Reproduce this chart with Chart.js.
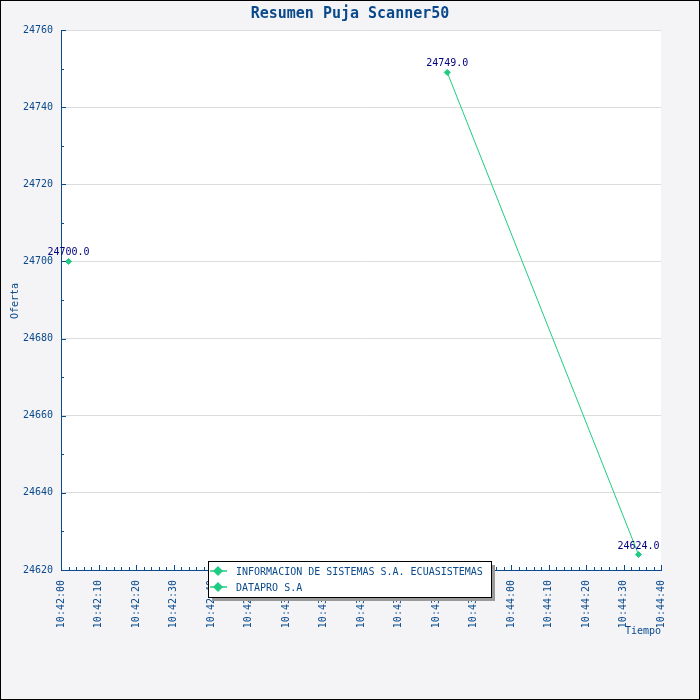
<!DOCTYPE html>
<html>
<head>
<meta charset="utf-8">
<script src="https://cdn.jsdelivr.net/npm/chart.js@4/dist/chart.umd.min.js"></script>
<style>
html,body{margin:0;padding:0;background:#f4f4f6;}
canvas{display:block;}
</style>
</head>
<body>
<canvas id="c" width="700" height="700"></canvas>
<script>
// ---- data ----
const chartTitle = "Resumen Puja Scanner50";
const seriesNames = ["INFORMACION DE SISTEMAS S.A. ECUASISTEMAS", "DATAPRO S.A"];
const series1Times = ["10:42:02"];
const series1Values = [24700.0];
const series2Times = ["10:43:43", "10:44:34"];
const series2Values = [24749.0, 24624.0];
const xStart = "10:42:00";
const xEnd = "10:44:40";
const yMin = 24620, yMax = 24760, yStep = 20, yMinorStep = 10;
const xStepSec = 10, xMinorStepSec = 2;
const yTitle = "Oferta";
const xTitle = "Tiempo";

// ---- helpers ----
function toSec(t){const p=t.split(':').map(Number);return p[0]*3600+p[1]*60+p[2];}
function fmt(s){const h=Math.floor(s/3600),m=Math.floor((s%3600)/60),x=s%60;
  const z=n=>String(n).padStart(2,'0');return z(h)+':'+z(m)+':'+z(x);}
const base = toSec(xStart);
const xMax = toSec(xEnd)-base;
function pts(times, vals){return times.map((t,i)=>({x:toSec(t)-base,y:vals[i]}));}

const TXT = '#0a4a8c';
const AX = '#0a4a8c';
const GREEN = '#1fcc82';
const FONT = '"DejaVu Sans Mono", monospace';

const decor = {
  id:'decor',
  beforeDraw(chart){
    const {ctx, chartArea:a} = chart;
    ctx.save();
    ctx.fillStyle='#f4f4f6'; ctx.fillRect(0,0,700,700);
    ctx.strokeStyle='#000'; ctx.lineWidth=1; ctx.strokeRect(0.5,0.5,699,699);
    ctx.fillStyle='#fff'; ctx.fillRect(a.left,a.top,a.right-a.left,a.bottom-a.top);
    ctx.restore();
  },
  afterDraw(chart){
    const {ctx, chartArea:a, scales} = chart;
    const xs=scales.x, ys=scales.y;
    ctx.save();
    // ticks inward
    ctx.strokeStyle=AX; ctx.lineWidth=1;
    ctx.beginPath();
    for(let v=yMin; v<=yMax; v+=yMinorStep){
      const y=Math.round(ys.getPixelForValue(v))+0.5;
      const len=((v-yMin)%yStep===0)?5:3;
      ctx.moveTo(a.left,y); ctx.lineTo(a.left+len,y);
    }
    for(let s=0; s<=xMax; s+=xMinorStepSec){
      const x=Math.round(xs.getPixelForValue(s))+0.5;
      const len=(s%xStepSec===0)?5:3;
      ctx.moveTo(x,a.bottom); ctx.lineTo(x,a.bottom-len);
    }
    ctx.stroke();
    // title
    ctx.fillStyle=TXT;
    ctx.font='bold 15px '+FONT;
    ctx.textAlign='center'; ctx.textBaseline='alphabetic';
    ctx.fillText(chartTitle, 350, 18);
    // axis titles
    ctx.font='10px '+FONT;
    ctx.textAlign='right';
    ctx.fillText(xTitle, a.right, 634);
    ctx.save();
    ctx.translate(15,301); ctx.rotate(-Math.PI/2);
    ctx.textAlign='center'; ctx.textBaseline='middle';
    ctx.fillText(yTitle,0,0);
    ctx.restore();
    // data labels
    ctx.fillStyle='#000080';
    ctx.font='10px '+FONT;
    ctx.textAlign='center'; ctx.textBaseline='alphabetic';
    chart.data.datasets.forEach((ds,i)=>{
      const meta=chart.getDatasetMeta(i);
      meta.data.forEach((p,j)=>{
        ctx.fillText(ds.data[j].y.toFixed(1), p.x, p.y-6);
      });
    });
    // legend
    const L=208,T=561,R=491,B=597;
    ctx.fillStyle='#9a9a9a';
    ctx.fillRect(L+4,T+4,R-L,B-T);
    ctx.fillStyle='#fff';
    ctx.fillRect(L,T,R-L,B-T);
    ctx.strokeStyle='#000'; ctx.lineWidth=1;
    ctx.strokeRect(L+0.5,T+0.5,R-L,B-T);
    chart.data.datasets.forEach((ds,i)=>{
      const cy=T+10+i*16;
      ctx.strokeStyle=ds.borderColor; ctx.lineWidth=1.5;
      ctx.beginPath(); ctx.moveTo(L+2,cy); ctx.lineTo(L+19,cy); ctx.stroke();
      ctx.fillStyle=ds.pointBackgroundColor;
      ctx.beginPath(); ctx.moveTo(L+10,cy-5); ctx.lineTo(L+15,cy); ctx.lineTo(L+10,cy+5); ctx.lineTo(L+5,cy); ctx.closePath(); ctx.fill();
      ctx.fillStyle=TXT; ctx.font='10px '+FONT;
      ctx.textAlign='left'; ctx.textBaseline='middle';
      ctx.fillText(ds.label, L+28, cy+1);
    });
    ctx.restore();
  }
};

new Chart(document.getElementById('c'),{
  type:'line',
  data:{datasets:[
    {label:seriesNames[0], data:pts(series1Times,series1Values), borderColor:GREEN, backgroundColor:GREEN,
     pointBackgroundColor:GREEN, pointBorderColor:GREEN, pointStyle:'rectRot', pointRadius:3, borderWidth:1, tension:0},
    {label:seriesNames[1], data:pts(series2Times,series2Values), borderColor:GREEN, backgroundColor:GREEN,
     pointBackgroundColor:GREEN, pointBorderColor:GREEN, pointStyle:'rectRot', pointRadius:3, borderWidth:1, tension:0}
  ]},
  options:{
    responsive:false, animation:false, devicePixelRatio:1,
    layout:{padding:{top:30,right:39,left:0,bottom:0}},
    plugins:{legend:{display:false}, title:{display:false}, tooltip:{enabled:false}},
    scales:{
      x:{type:'linear', min:0, max:xMax,
        afterFit(s){s.height=130;},
        ticks:{stepSize:xStepSec, autoSkip:false, maxRotation:90, minRotation:90, padding:10,
          color:TXT, font:{family:FONT,size:10}, callback:v=>fmt(base+v)},
        grid:{display:false, drawTicks:false},
        border:{display:true,color:AX,width:1}},
      y:{type:'linear', min:yMin, max:yMax,
        afterFit(s){s.width=61;},
        ticks:{stepSize:yStep, padding:8, color:TXT, font:{family:FONT,size:10}, callback:v=>String(v)},
        grid:{color:'#dcdcdc', drawTicks:false, lineWidth:1},
        border:{display:true,color:AX,width:1}}
    }
  },
  plugins:[decor]
});
</script>
</body>
</html>
